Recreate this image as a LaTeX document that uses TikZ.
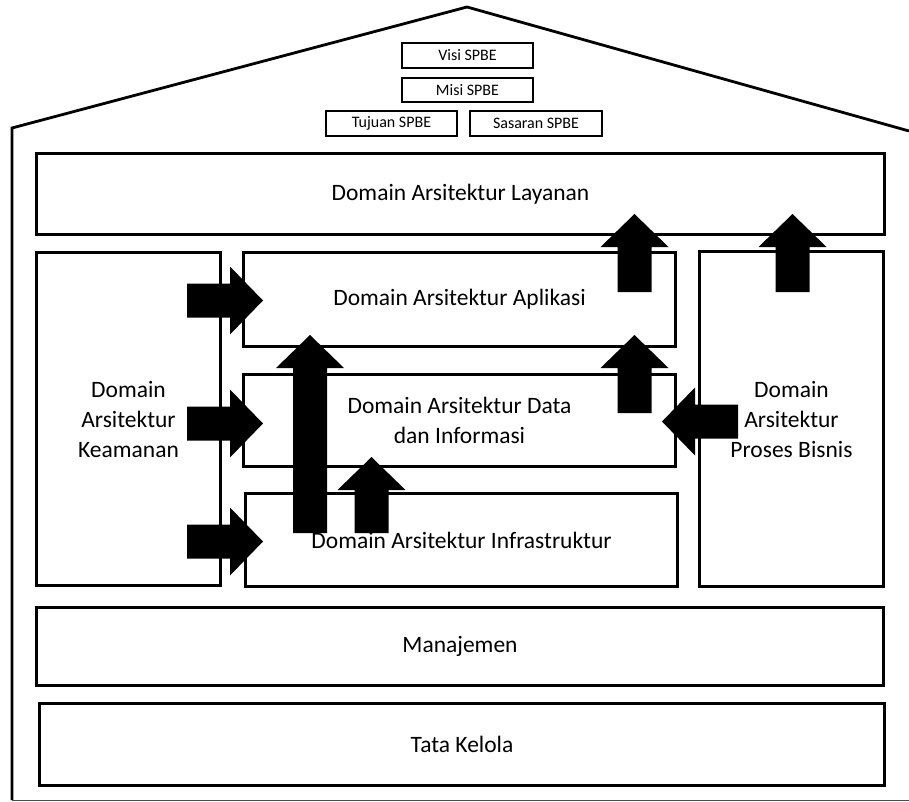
\documentclass[tikz,border=0pt]{standalone}
\usepackage{fontspec}
\setmainfont{Carlito}
\usetikzlibrary{calc}

\tikzset{
  box/.style={draw=black, line width=2.8pt, inner sep=0pt, align=center,
    font=\fontsize{23.5}{30}\selectfont},
  smallbox/.style={draw=black, line width=2pt, inner sep=0pt,
    font=\fontsize{16}{19}\selectfont},
  house/.style={draw=black, line width=2.8pt, line join=miter},
  ground/.style={draw=black!70, line width=1pt},
  blockarrow/.style={fill=black},
}

% Block arrows: #1 = tail centre, #2 = tip
\newcommand\blkup[2]{%
  \fill[blockarrow] ($(#1)+(-17,0)$) -- ($(#2)+(-17,33)$) -- ($(#2)+(-34,33)$)
    -- (#2) -- ($(#2)+(34,33)$) -- ($(#2)+(17,33)$) -- ($(#1)+(17,0)$) -- cycle;}
\newcommand\blkright[2]{%
  \fill[blockarrow] ($(#1)+(0,-17)$) -- ($(#2)+(-33,-17)$) -- ($(#2)+(-33,-34)$)
    -- (#2) -- ($(#2)+(-33,34)$) -- ($(#2)+(-33,17)$) -- ($(#1)+(0,17)$) -- cycle;}
\newcommand\blkleft[2]{%
  \fill[blockarrow] ($(#1)+(0,-17)$) -- ($(#2)+(33,-17)$) -- ($(#2)+(33,-34)$)
    -- (#2) -- ($(#2)+(33,34)$) -- ($(#2)+(33,17)$) -- ($(#1)+(0,17)$) -- cycle;}

\begin{document}
\begin{tikzpicture}[x=1pt,y=-1pt]
  \useasboundingbox[fill=white] (0,0) rectangle (909,802);

  % house outline
  \coordinate (wallfoot) at (12,800);
  \coordinate (eaveL) at (12,128);
  \coordinate (apex) at (467,7);
  \coordinate (eaveR) at (909,131);
  \coordinate (groundR) at (909,800);
  \draw[house] (wallfoot) -- (eaveL) -- (apex) -- (eaveR);
  \draw[ground] (wallfoot) -- (groundR);

  % vision / mission / goals
  \node[smallbox, minimum width=131pt, minimum height=25pt] (visi) at (467.5,55.5) {Visi SPBE};
  \node[smallbox, minimum width=131pt, minimum height=24pt] (misi) at (467.5,90) {Misi SPBE};
  \node[smallbox, minimum width=131pt, minimum height=25pt] (tujuan) at (391.5,123.5) {Tujuan SPBE};
  \node[smallbox, minimum width=132pt, minimum height=25pt] (sasaran) at (536,123.5) {Sasaran SPBE};

  % architecture domains
  \node[box, minimum width=848pt, minimum height=81pt] (lay) at (460.5,194) {Domain Arsitektur Layanan};
  \node[box, minimum width=184pt, minimum height=333pt] (keam) at (128.5,419) {Domain\\Arsitektur\\Keamanan};
  \node[box, minimum width=432pt, minimum height=94pt] (apl) at (459.5,299.5) {Domain Arsitektur Aplikasi};
  \node[box, minimum width=432pt, minimum height=92pt] (data) at (459.5,420.5) {Domain Arsitektur Data\\dan Informasi};
  \node[box, minimum width=432pt, minimum height=93pt] (infra) at (461.5,540) {Domain Arsitektur Infrastruktur};
  \node[box, minimum width=184pt, minimum height=335pt] (proses) at (791.5,419) {Domain\\Arsitektur\\Proses Bisnis};
  \node[box, minimum width=847pt, minimum height=78pt] (man) at (460,646.5) {Manajemen};
  \node[box, minimum width=845pt, minimum height=82pt] (tata) at (462,744.5) {Tata Kelola};

  % arrow end points
  \coordinate (keamA) at (187,300.5);  \coordinate (aplL) at (263,300.5);
  \coordinate (keamD) at (187,423.5);  \coordinate (dataL) at (263,423.5);
  \coordinate (keamI) at (187,541.5);  \coordinate (infraL) at (263,541.5);
  \coordinate (infraA) at (310,533);   \coordinate (aplB) at (310,335);
  \coordinate (infraD) at (371.5,533); \coordinate (dataB) at (371.5,457);
  \coordinate (aplT) at (634.5,292);   \coordinate (layA) at (634.5,214);
  \coordinate (dataT) at (634.5,413);  \coordinate (aplR) at (634.5,335);
  \coordinate (prosesT) at (792.5,292); \coordinate (layP) at (792.5,214);
  \coordinate (prosesD) at (738,421.5); \coordinate (dataR) at (662,421.5);

  % arrows
  \blkright{keamA}{aplL}
  \blkright{keamD}{dataL}
  \blkright{keamI}{infraL}
  \blkup{infraA}{aplB}
  \blkup{infraD}{dataB}
  \blkup{aplT}{layA}
  \blkup{dataT}{aplR}
  \blkup{prosesT}{layP}
  \blkleft{prosesD}{dataR}
\end{tikzpicture}
\end{document}
